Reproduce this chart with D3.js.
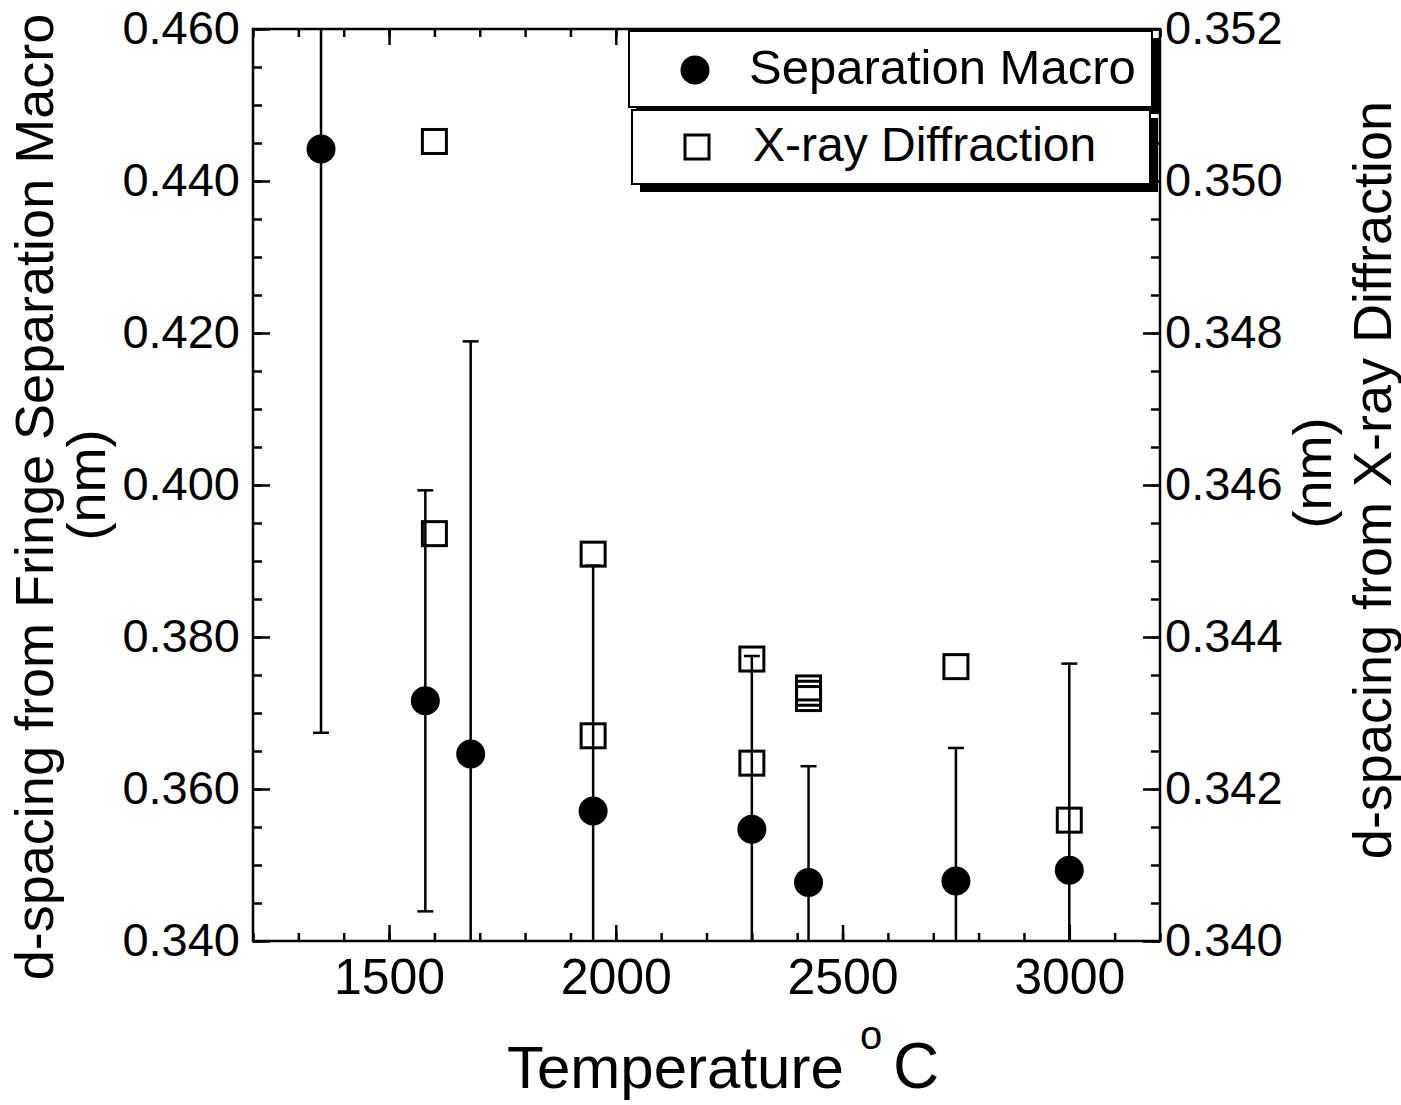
<!DOCTYPE html>
<html>
<head>
<meta charset="utf-8">
<script src="https://cdn.jsdelivr.net/npm/d3@7"></script>
<style>
  body { margin: 0; background: #fff; }
  svg text { font-family: "Liberation Sans", Arial, Helvetica, sans-serif; fill: #000; }
</style>
</head>
<body>
<svg id="chart" width="1401" height="1105"></svg>
<script>
// Separation Macro (left axis), symmetric error bars
const sepTemps = [1350, 1580, 1680, 1950, 2300, 2425, 2750, 3000];
const sepValues = [0.4442, 0.3716, 0.3646, 0.3571, 0.3547, 0.3477, 0.3479, 0.3493];
const sepErrors = [0.0768, 0.0277, 0.0543, 0.0323, 0.0228, 0.0153, 0.0175, 0.0272];

// X-ray Diffraction (right axis)
const xrdTemps = [1600, 1600, 1950, 1950, 2300, 2300, 2425, 2425, 2425, 2750, 3000];
const xrdValues = [0.35052, 0.34536, 0.34509, 0.34270, 0.34371, 0.34234, 0.34333, 0.34326, 0.34319, 0.34361, 0.34159];

// tick labels
const xTicks = [1500, 2000, 2500, 3000];
const leftTicks = [0.340, 0.360, 0.380, 0.400, 0.420, 0.440, 0.460];
const rightTicks = [0.340, 0.342, 0.344, 0.346, 0.348, 0.350, 0.352];

const legendLabels = ["Separation Macro", "X-ray Diffraction"];

const svg_width = 1401;
const svg_height = 1105;
const padding = { top: 29, bottom: 164, left: 253, right: 241 };
const plotRight = svg_width - padding.right;
const plotBottom = svg_height - padding.bottom;

const svg = d3.select("#chart");

const xScale = d3.scaleLinear().domain([1200, 3200]).range([padding.left, plotRight]);
const yLeft = d3.scaleLinear().domain([0.340, 0.460]).range([plotBottom, padding.top]);
const yRight = d3.scaleLinear().domain([0.340, 0.352]).range([plotBottom, padding.top]);

// strip the domain path and thicken tick lines
function styleAxis(g) {
  g.select(".domain").remove();
  g.selectAll("line").attr("stroke", "#000").attr("stroke-width", 2.5);
}

// ---- minor ticks (all inward)
svg.append("g").attr("transform", `translate(0,${plotBottom})`)
  .call(d3.axisBottom(xScale).tickValues(xScale.ticks(20)).tickSizeInner(-8).tickSizeOuter(0).tickFormat(""))
  .call(styleAxis);
svg.append("g").attr("transform", `translate(0,${padding.top})`)
  .call(d3.axisTop(xScale).tickValues(xScale.ticks(20)).tickSizeInner(-8).tickSizeOuter(0).tickFormat(""))
  .call(styleAxis);
svg.append("g").attr("transform", `translate(${padding.left},0)`)
  .call(d3.axisLeft(yLeft).tickValues(yLeft.ticks(24)).tickSizeInner(-9).tickSizeOuter(0).tickFormat(""))
  .call(styleAxis);
svg.append("g").attr("transform", `translate(${plotRight},0)`)
  .call(d3.axisRight(yRight).tickValues(yRight.ticks(24)).tickSizeInner(-9).tickSizeOuter(0).tickFormat(""))
  .call(styleAxis);

// ---- major ticks with labels
svg.append("g").attr("transform", `translate(0,${plotBottom})`)
  .call(d3.axisBottom(xScale).tickValues(xTicks).tickSizeInner(-16).tickSizeOuter(0).tickPadding(17).tickFormat(d3.format("d")))
  .call(styleAxis)
  .attr("font-size", 50);
svg.append("g").attr("transform", `translate(0,${padding.top})`)
  .call(d3.axisTop(xScale).tickValues(xTicks).tickSizeInner(-16).tickSizeOuter(0).tickFormat(""))
  .call(styleAxis);
svg.append("g").attr("transform", `translate(${padding.left},0)`)
  .call(d3.axisLeft(yLeft).tickValues(leftTicks).tickSizeInner(-17).tickSizeOuter(0).tickPadding(13).tickFormat(d3.format(".3f")))
  .call(styleAxis)
  .attr("font-size", 47)
  .call(g => g.selectAll("text").attr("dy", "0.3em"));
svg.append("g").attr("transform", `translate(${plotRight},0)`)
  .call(d3.axisRight(yRight).tickValues(rightTicks).tickSizeInner(-17).tickSizeOuter(0).tickPadding(5).tickFormat(d3.format(".3f")))
  .call(styleAxis)
  .attr("font-size", 47)
  .call(g => g.selectAll("text").attr("dy", "0.3em"));

// frame
svg.append("rect")
  .attr("x", padding.left).attr("y", padding.top)
  .attr("width", plotRight - padding.left).attr("height", plotBottom - padding.top)
  .attr("fill", "none").attr("stroke", "#000").attr("stroke-width", 2.5);

// clip for error bars running off the axes
svg.append("clipPath").attr("id", "plot-clip")
  .append("rect")
  .attr("x", padding.left).attr("y", padding.top)
  .attr("width", plotRight - padding.left).attr("height", plotBottom - padding.top);

const sepData = sepTemps.map((t, i) => ({ t: t, v: sepValues[i], e: sepErrors[i] }));
const xrdData = xrdTemps.map((t, i) => ({ t: t, v: xrdValues[i] }));

const bars = svg.append("g").attr("clip-path", "url(#plot-clip)")
  .attr("stroke", "#000").attr("stroke-width", 2.5);
const capW = 8;

bars.selectAll(".stem")
  .data(sepData)
  .join("line")
  .attr("class", "stem")
  .attr("x1", d => xScale(d.t)).attr("x2", d => xScale(d.t))
  .attr("y1", d => yLeft(d.v + d.e)).attr("y2", d => yLeft(d.v - d.e));
bars.selectAll(".cap-top")
  .data(sepData)
  .join("line")
  .attr("class", "cap-top")
  .attr("x1", d => xScale(d.t) - capW).attr("x2", d => xScale(d.t) + capW)
  .attr("y1", d => yLeft(d.v + d.e)).attr("y2", d => yLeft(d.v + d.e));
bars.selectAll(".cap-bot")
  .data(sepData)
  .join("line")
  .attr("class", "cap-bot")
  .attr("x1", d => xScale(d.t) - capW).attr("x2", d => xScale(d.t) + capW)
  .attr("y1", d => yLeft(d.v - d.e)).attr("y2", d => yLeft(d.v - d.e));

svg.append("g").selectAll("circle")
  .data(sepData)
  .join("circle")
  .attr("cx", d => xScale(d.t))
  .attr("cy", d => yLeft(d.v))
  .attr("r", 14.5)
  .attr("fill", "#000");

const sq = 24;
svg.append("g").selectAll("rect")
  .data(xrdData)
  .join("rect")
  .attr("x", d => xScale(d.t) - sq / 2)
  .attr("y", d => yRight(d.v) - sq / 2)
  .attr("width", sq).attr("height", sq)
  .attr("fill", "none")
  .attr("stroke", "#000")
  .attr("stroke-width", 3);

// ---- legend: two boxes with drop shadows
const legendBoxes = [
  { x: 629, y: 31, w: 523, h: 76, off: 7 },
  { x: 632, y: 110, w: 518, h: 74, off: 8 }
];
const legend = svg.append("g");
legendBoxes.forEach(b => {
  legend.append("rect")
    .attr("x", b.x + b.off).attr("y", b.y + b.off)
    .attr("width", b.w).attr("height", b.h)
    .attr("fill", "#000");
});
legendBoxes.forEach(b => {
  legend.append("rect")
    .attr("x", b.x).attr("y", b.y)
    .attr("width", b.w).attr("height", b.h)
    .attr("fill", "#fff").attr("stroke", "#000").attr("stroke-width", 2);
});
legend.append("circle").attr("cx", 695).attr("cy", 70).attr("r", 14.5).attr("fill", "#000");
legend.append("rect").attr("x", 697 - sq / 2).attr("y", 147 - sq / 2)
  .attr("width", sq).attr("height", sq)
  .attr("fill", "none").attr("stroke", "#000").attr("stroke-width", 3);
legend.append("text").attr("x", 749).attr("y", 84).attr("font-size", 49).text(legendLabels[0]);
legend.append("text").attr("x", 753).attr("y", 161).attr("font-size", 48).text(legendLabels[1]);

// ---- axis titles
const xlabel = svg.append("text").attr("x", 507).attr("y", 1088).attr("font-size", 60);
xlabel.append("tspan").text("Temperature");
xlabel.append("tspan").attr("x", 860).attr("y", 1049).attr("font-size", 40).text("o");
xlabel.append("tspan").attr("x", 893).attr("y", 1088).attr("font-size", 64).text("C");

const ylabel = svg.append("g").attr("font-size", 54).attr("text-anchor", "middle");
ylabel.append("text")
  .attr("transform", "translate(53, 497) rotate(-90)")
  .text("d-spacing from Fringe Separation Macro");
ylabel.append("text")
  .attr("transform", "translate(105, 485) rotate(-90)")
  .text("(nm)");

const ylabel2 = svg.append("g").attr("font-size", 54).attr("text-anchor", "middle");
ylabel2.append("text")
  .attr("transform", "translate(1391, 480) rotate(-90)")
  .text("d-spacing from X-ray Diffraction");
ylabel2.append("text")
  .attr("transform", "translate(1331, 473) rotate(-90)")
  .text("(nm)");
</script>
</body>
</html>
